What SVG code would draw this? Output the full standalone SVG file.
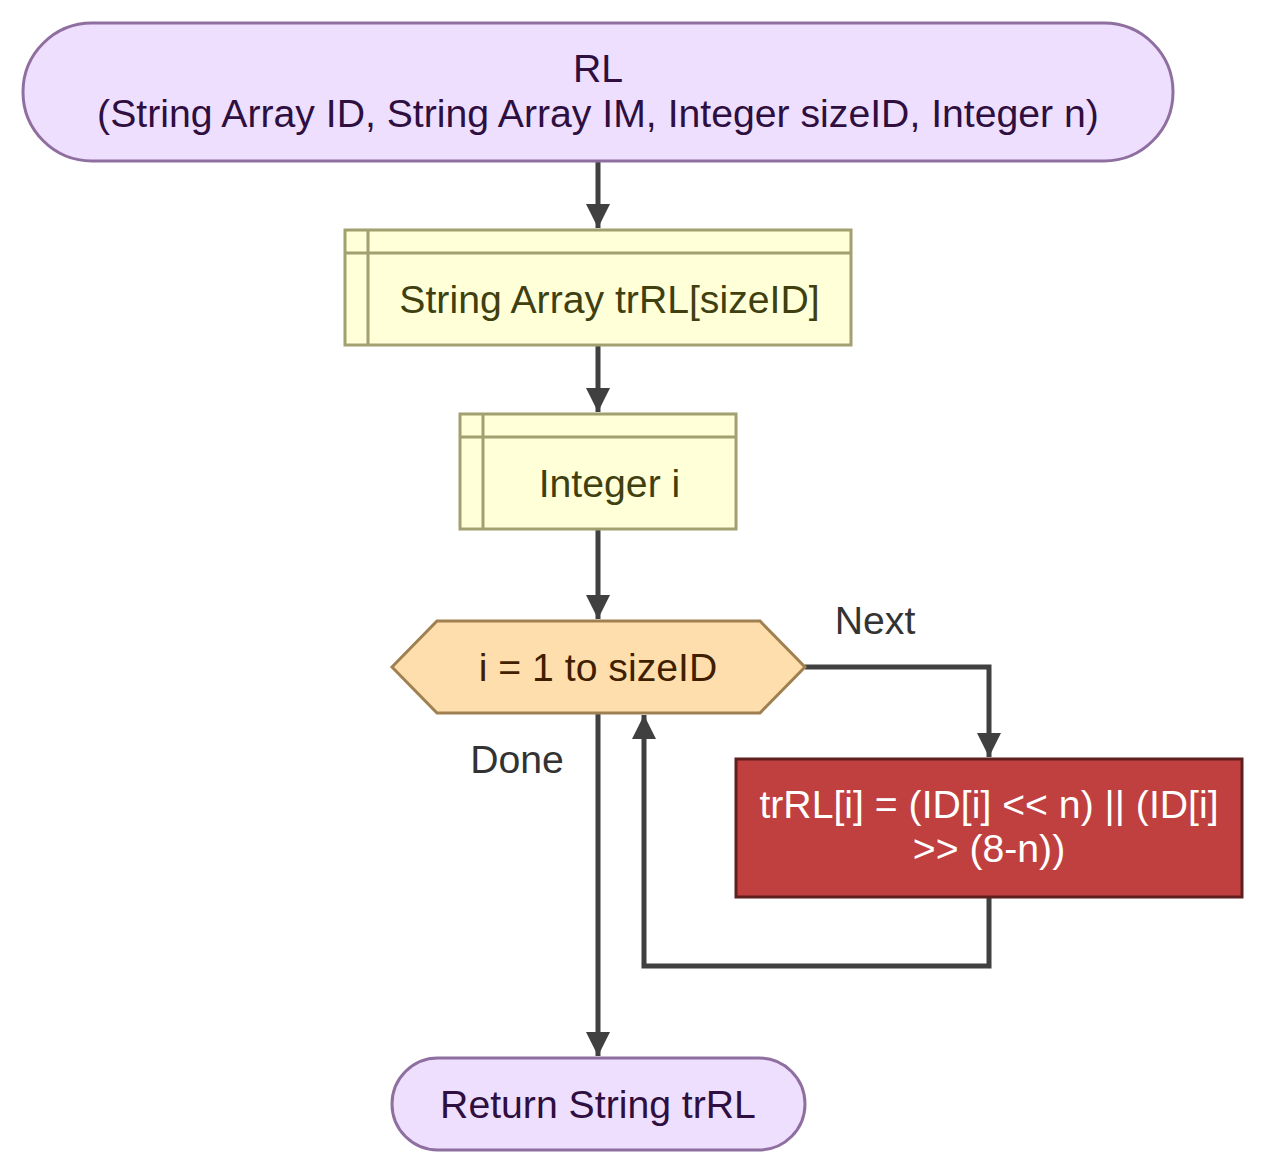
<svg xmlns="http://www.w3.org/2000/svg" width="1266" height="1174" viewBox="0 0 1266 1174">
<style>
text{font-family:"Liberation Sans",Arial,sans-serif;font-size:39.2px;text-anchor:middle}
.term{fill:#EFDFFF;stroke:#8F6FA0;stroke-width:3}
.term-t{fill:#2E0F3F}
.decl{fill:#FFFFD8;stroke:#A0A070;stroke-width:3}
.decl-t{fill:#3F3F10}
.loop{fill:#FFDEAD;stroke:#A08050;stroke-width:3}
.loop-t{fill:#3F1F00}
.proc{fill:#C04040;stroke:#5F1F1F;stroke-width:3}
.proc-t{fill:#FFFFFF}
.edge{fill:none;stroke:#404040;stroke-width:5}
.lbl{fill:#333333}
</style>
<defs>
<marker id="arr" markerUnits="userSpaceOnUse" markerWidth="26" markerHeight="26" viewBox="0 0 26 26" refX="24" refY="13" orient="auto">
<path d="M0,1 L24,13 L0,25 Z" fill="#404040"/>
</marker>
</defs>
<g id="edges">
<path class="edge" d="M598,161 V228" marker-end="url(#arr)"/>
<path class="edge" d="M598,345 V412" marker-end="url(#arr)"/>
<path class="edge" d="M598,529 V619" marker-end="url(#arr)"/>
<path class="edge" d="M805,667 H989 V757" marker-end="url(#arr)"/>
<path class="edge" d="M989,897 V966 H644 V715" marker-end="url(#arr)"/>
<path class="edge" d="M598,713 V1056" marker-end="url(#arr)"/>
<text class="lbl" x="875" y="634">Next</text>
<text class="lbl" x="517" y="773">Done</text>
</g>
<g id="start">
<rect class="term" x="23" y="23" width="1150" height="138" rx="69" ry="69"/>
<text class="term-t" x="598" y="82">RL</text>
<text class="term-t" x="598" y="127">(String Array ID, String Array IM, Integer sizeID, Integer n)</text>
</g>
<g id="decl1">
<rect class="decl" x="345" y="230" width="506" height="115"/>
<path class="decl" d="M345,253 H851 M368,230 V345" fill="none"/>
<text class="decl-t" x="609.5" y="313">String Array trRL[sizeID]</text>
</g>
<g id="decl2">
<rect class="decl" x="460" y="414" width="276" height="115"/>
<path class="decl" d="M460,437 H736 M483,414 V529" fill="none"/>
<text class="decl-t" x="609.5" y="497">Integer i</text>
</g>
<g id="loop">
<polygon class="loop" points="392,667 437,621 760,621 805,667 760,713 437,713"/>
<text class="loop-t" x="598" y="681">i = 1 to sizeID</text>
</g>
<g id="body">
<rect class="proc" x="736" y="759" width="506" height="138"/>
<text class="proc-t" x="989" y="818">trRL[i] = (ID[i] &lt;&lt; n) || (ID[i]</text>
<text class="proc-t" x="989" y="862">&gt;&gt; (8-n))</text>
</g>
<g id="end">
<rect class="term" x="392" y="1058" width="413" height="92" rx="46" ry="46"/>
<text class="term-t" x="598" y="1118">Return String trRL</text>
</g>
</svg>
